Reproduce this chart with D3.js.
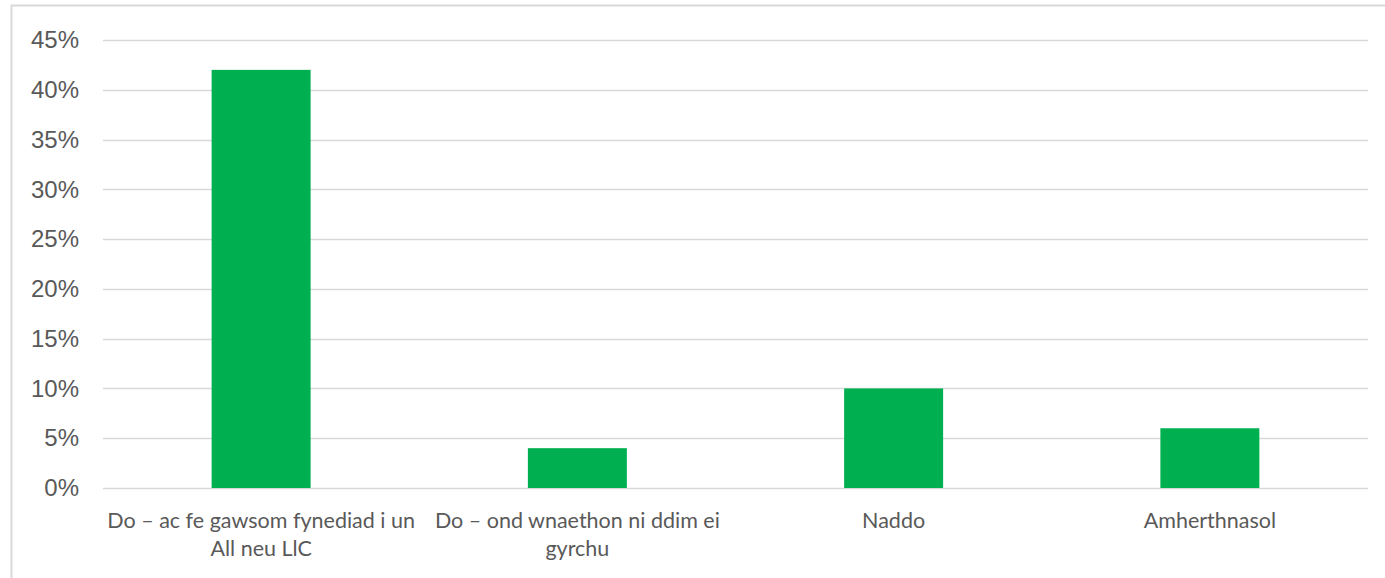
<!DOCTYPE html>
<html>
<head>
<meta charset="utf-8">
<script src="https://cdn.jsdelivr.net/npm/d3@7"></script>
<style>
  body { margin: 0; background: #fff; }
  svg { display: block; }
</style>
</head>
<body>
<div id="chart"></div>
<script>
// data
var categories = [
  "Do – ac fe gawsom fynediad i un\nAll neu LlC",
  "Do – ond wnaethon ni ddim ei\ngyrchu",
  "Naddo",
  "Amherthnasol"
];
var values = [42, 4, 10, 6];
var yTicks = [0, 5, 10, 15, 20, 25, 30, 35, 40, 45];

var width = 1385,
  height = 578;

var margin = { top: 40, right: 17, bottom: 90, left: 103 };

var svg = d3.select("#chart")
  .append("svg")
  .attr("width", width)
  .attr("height", height);

// chart frame (runs off right and bottom edge)
svg.append("rect")
  .attr("x", 11.5)
  .attr("y", 5.5)
  .attr("width", width + 20)
  .attr("height", height + 20)
  .attr("fill", "none")
  .attr("stroke", "#d9d9d9")
  .attr("stroke-width", 2);

var x = d3.scaleBand()
  .domain(categories)
  .range([margin.left, width - margin.right])
  .paddingInner(0.687)
  .paddingOuter(0.687 / 2);

var y = d3.scaleLinear()
  .domain([0, 45])
  .range([height - margin.bottom, margin.top]);

// gridlines
svg.append("g")
  .selectAll("line")
  .data(yTicks)
  .enter().append("line")
  .attr("x1", margin.left)
  .attr("x2", width - margin.right)
  .attr("y1", function(d) { return Math.round(y(d)) + 0.5; })
  .attr("y2", function(d) { return Math.round(y(d)) + 0.5; })
  .attr("stroke", "#d9d9d9")
  .attr("stroke-width", 1.5);

// y axis labels
var yAxis = d3.axisLeft(y)
  .tickValues(yTicks)
  .tickSize(0)
  .tickPadding(24)
  .tickFormat(function(d) { return d + "%"; });

var gy = svg.append("g")
  .attr("transform", "translate(" + margin.left + ",0)")
  .call(yAxis);
gy.select(".domain").remove();
gy.selectAll("text")
  .attr("font-family", "'Liberation Sans', Arial, sans-serif")
  .attr("font-size", "24px")
  .attr("fill", "#595959");

// bars
svg.append("g")
  .selectAll("rect")
  .data(values)
  .enter().append("rect")
  .attr("x", function(d, i) { return x(categories[i]); })
  .attr("width", x.bandwidth())
  .attr("y", function(d) { return y(d); })
  .attr("height", function(d) { return y(0) - y(d); })
  .attr("fill", "#00b050");

// category labels
var labels = svg.append("g")
  .selectAll("text")
  .data(categories)
  .enter().append("text")
  .attr("text-anchor", "middle")
  .attr("font-family", "Lato, 'Open Sans', sans-serif")
  .attr("font-size", "21.5px")
  .attr("fill", "#595959")
  .attr("transform", function(d) {
    return "translate(" + (x(d) + x.bandwidth() / 2) + "," + (y(0) + 40) + ")";
  });

labels.selectAll("tspan")
  .data(function(d) { return d.split("\n"); })
  .enter().append("tspan")
  .attr("x", 0)
  .attr("y", function(d, i) { return i * 28; })
  .text(function(d) { return d; });
</script>
</body>
</html>
